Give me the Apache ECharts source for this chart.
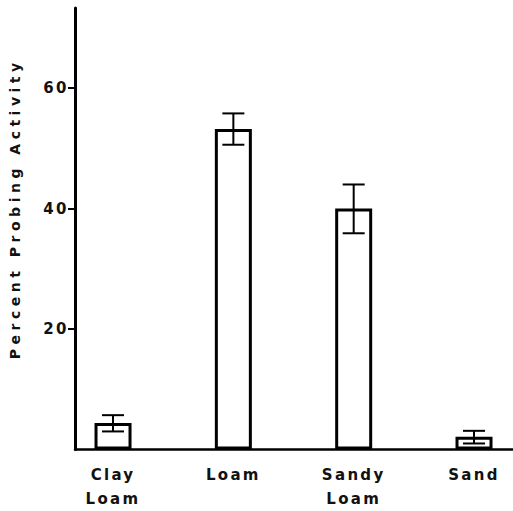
<!DOCTYPE html>
<html>
<head>
<meta charset="utf-8">
<script src="https://cdn.jsdelivr.net/npm/echarts@6/dist/echarts.min.js"></script>
<style>
html,body{margin:0;padding:0;background:#fff;overflow:hidden;}
#c{width:513px;height:511px;}
</style>
</head>
<body>
<div id="c"></div>
<script>
const categories = ['Clay\nLoam', 'Loam', 'Sandy\nLoam', 'Sand'];
const positions = [0, 1, 2, 3];
const values = [4.4, 53.2, 40.0, 2.1];
const errLow = [3.0, 50.6, 35.9, 1.0];
const errHigh = [5.7, 55.8, 44.0, 3.1];
const yTicks = [20, 40, 60];
const yMax = 73.3;
const yTitle = 'Percent Probing Activity';

const FONT = '"DejaVu Sans", sans-serif';
const chart = echarts.init(document.getElementById('c'), null, {renderer: 'svg'});

const barData = positions.map((p, i) => [p, values[i]]);
const errData = positions.map((p, i) => [p, errLow[i], errHigh[i]]);

function spaceText() {
  document.querySelectorAll('#c svg text').forEach(t => {
    const s = t.textContent.trim();
    if (s === yTitle) t.style.letterSpacing = '4.5px';
    else if (/^\d+$/.test(s)) t.style.letterSpacing = '2.5px';
    else t.style.letterSpacing = '2.3px';
  });
}

chart.setOption({
  animation: false,
  backgroundColor: '#fff',
  grid: {left: 75, right: 0, top: 8, bottom: 61.5, containLabel: false, outerBoundsMode: 'none'},
  xAxis: {type: 'value', min: -0.316, max: 3.324,
    axisLine: {show: true, onZero: false, lineStyle: {color: '#000', width: 2.5}},
    axisTick: {show: false}, splitLine: {show: false},
    axisLabel: {customValues: positions, formatter: v => categories[Math.round(v)],
                color: '#111', fontFamily: FONT, fontWeight: 'bold', fontSize: 15,
                lineHeight: 24, margin: 13, showMinLabel: true, showMaxLabel: true}},
  yAxis: {type: 'value', min: 0, max: yMax, interval: 20,
    name: yTitle, nameLocation: 'middle', nameGap: 53,
    nameTextStyle: {color: '#111', fontFamily: FONT, fontWeight: 'bold', fontSize: 14,
                    padding: [0, 0, 0, 40]},
    axisLine: {show: true, onZero: false, lineStyle: {color: '#000', width: 3}},
    axisTick: {show: true, customValues: yTicks, length: 7, lineStyle: {color: '#000', width: 2}},
    axisLabel: {customValues: yTicks, color: '#111', fontFamily: FONT, fontWeight: 'bold',
                fontSize: 15, margin: 6},
    splitLine: {show: false}},
  series: [
    {type: 'bar', data: barData, barWidth: 37,
     itemStyle: {color: '#fff', borderColor: '#000', borderWidth: 3}},
    {type: 'custom', data: errData, z: 5,
     renderItem: function (params, api) {
       const x = api.value(0);
       const lo = api.coord([x, api.value(1)]);
       const hi = api.coord([x, api.value(2)]);
       const hw = 11;
       const st = {stroke: '#000', lineWidth: 2};
       return {type: 'group', children: [
         {type: 'line', shape: {x1: lo[0], y1: lo[1], x2: hi[0], y2: hi[1]}, style: st},
         {type: 'line', shape: {x1: hi[0] - hw, y1: hi[1], x2: hi[0] + hw, y2: hi[1]}, style: st},
         {type: 'line', shape: {x1: lo[0] - hw, y1: lo[1], x2: lo[0] + hw, y2: lo[1]}, style: st}
       ]};
     }}
  ]
});
chart.on('finished', spaceText);
spaceText();
setTimeout(spaceText, 50);
</script>
</body>
</html>
